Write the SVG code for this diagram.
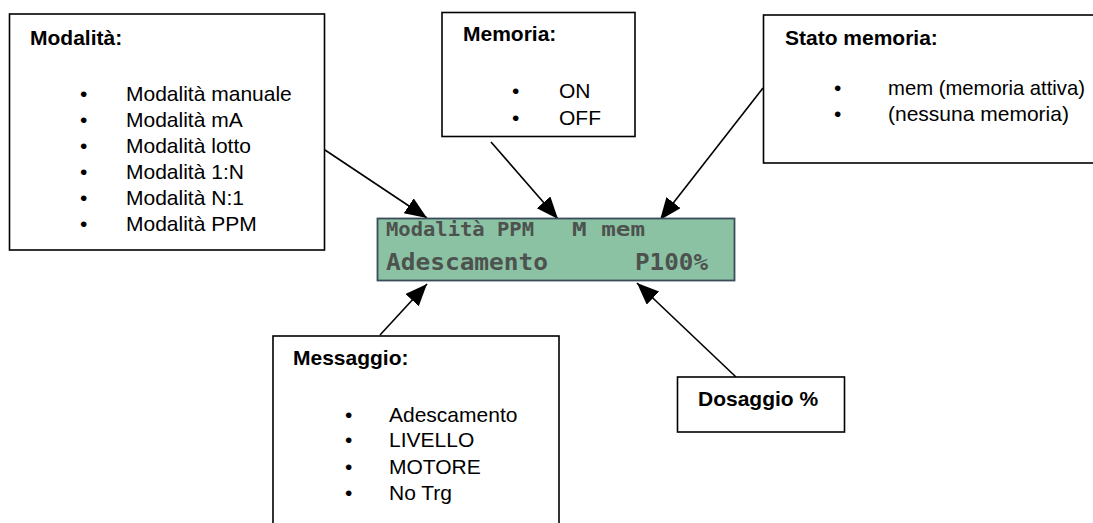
<svg xmlns="http://www.w3.org/2000/svg" width="1093" height="523" viewBox="0 0 1093 523">
<style>
.box{fill:#fff;stroke:#000;stroke-width:1.6}
.t{font-family:"Liberation Sans",Arial,sans-serif;font-size:21px;fill:#000}
.b{font-weight:bold}
.lcd{font-family:"DejaVu Sans Mono","Liberation Mono",monospace;font-weight:bold;fill:#4d524f}
.conn{stroke:#000;stroke-width:1.6;fill:none;marker-end:url(#ah)}
</style>
<defs>
<marker id="ah" markerUnits="userSpaceOnUse" markerWidth="24" markerHeight="20" refX="22" refY="9" orient="auto">
<path d="M0,0 L22,9 L0,18 z" fill="#000"/>
</marker>
<clipPath id="lcdclip"><rect x="378" y="219" width="356" height="61"/></clipPath>
</defs>
<rect width="1093" height="523" fill="#fff"/>

<g id="connectors">
<line class="conn" x1="325" y1="150" x2="427" y2="218"/>
<line class="conn" x1="491" y1="142" x2="558" y2="219"/>
<line class="conn" x1="763" y1="88" x2="660" y2="220"/>
<line class="conn" x1="380" y1="335" x2="427" y2="284"/>
<line class="conn" x1="736" y1="377" x2="637" y2="283"/>
</g>

<g id="lcd">
<rect x="377.5" y="218.5" width="357" height="62" fill="#8cc2a4" stroke="#3b4b5a" stroke-width="1.8"/>
<g clip-path="url(#lcdclip)">
<text class="lcd" x="386" y="236" font-size="20" textLength="148" lengthAdjust="spacingAndGlyphs">Modalità PPM</text>
<text class="lcd" x="572" y="236" font-size="20" textLength="73" lengthAdjust="spacingAndGlyphs">M mem</text>
<text class="lcd" x="386" y="270" font-size="23" textLength="162" lengthAdjust="spacingAndGlyphs">Adescamento</text>
<text class="lcd" x="635" y="270" font-size="23" textLength="73" lengthAdjust="spacingAndGlyphs">P100%</text>
</g>
</g>

<g id="modalita">
<rect class="box" x="9.5" y="14" width="315" height="236"/>
<text class="t b" x="30" y="45">Modalità:</text>
<g class="t">
<text x="80" y="101">•</text><text x="126" y="101">Modalità manuale</text>
<text x="80" y="127">•</text><text x="126" y="127">Modalità mA</text>
<text x="80" y="153">•</text><text x="126" y="153">Modalità lotto</text>
<text x="80" y="179">•</text><text x="126" y="179">Modalità 1:N</text>
<text x="80" y="205">•</text><text x="126" y="205">Modalità N:1</text>
<text x="80" y="231">•</text><text x="126" y="231">Modalità PPM</text>
</g>
</g>

<g id="memoria">
<rect class="box" x="442" y="12.5" width="193" height="124"/>
<text class="t b" x="463" y="41">Memoria:</text>
<g class="t">
<text x="512" y="98">•</text><text x="559" y="98">ON</text>
<text x="512" y="125">•</text><text x="559" y="125">OFF</text>
</g>
</g>

<g id="stato-memoria">
<rect class="box" x="763.5" y="15" width="340" height="148"/>
<text class="t b" x="785" y="45">Stato memoria:</text>
<g class="t">
<text x="834" y="95">•</text><text x="888" y="95" textLength="197" lengthAdjust="spacingAndGlyphs">mem (memoria attiva)</text>
<text x="834" y="121">•</text><text x="888" y="121">(nessuna memoria)</text>
</g>
</g>

<g id="messaggio">
<rect class="box" x="273" y="336" width="286" height="200"/>
<text class="t b" x="293" y="365">Messaggio:</text>
<g class="t">
<text x="345" y="422">•</text><text x="389" y="422">Adescamento</text>
<text x="345" y="447">•</text><text x="389" y="447">LIVELLO</text>
<text x="345" y="474">•</text><text x="389" y="474">MOTORE</text>
<text x="345" y="500">•</text><text x="389" y="500">No Trg</text>
</g>
</g>

<g id="dosaggio">
<rect class="box" x="677.5" y="377" width="167" height="55"/>
<text class="t b" x="698" y="406">Dosaggio %</text>
</g>
</svg>
